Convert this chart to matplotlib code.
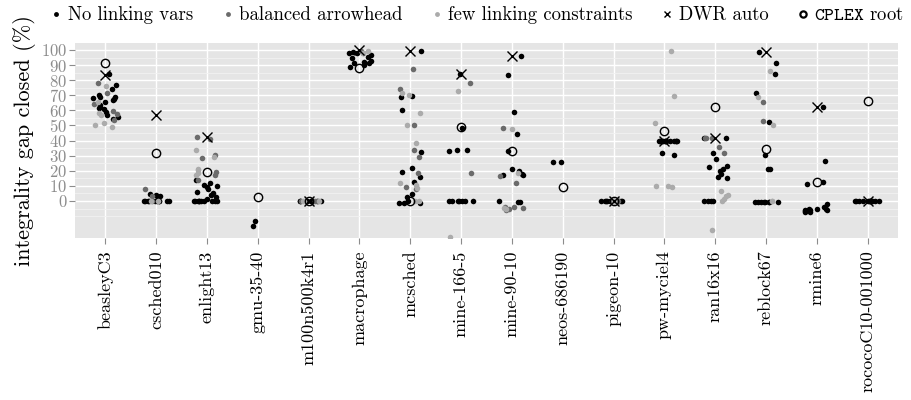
import numpy as np
import matplotlib
matplotlib.use('Agg')
from matplotlib import pyplot as plt
from matplotlib.lines import Line2D

plt.rcParams['font.family'] = ['cmr10', 'DejaVu Serif']
plt.rcParams['mathtext.fontset'] = 'cm'
plt.rcParams['axes.formatter.use_mathtext'] = True

# instancias del eje x
instances = ['beasleyC3', 'csched010', 'enlight13', 'gmu-35-40', 'm100n500k4r1',
             'macrophage', 'mcsched', 'mine-166-5', 'mine-90-10', 'neos-686190',
             'pigeon-10', 'pw-myciel4', 'ran16x16', 'reblock67', 'rmine6',
             'rococoC10-001000']

# gap cerrado (%) por instancia, una lista por serie
no_linking = [
    [83.9, 76.8, 74.2, 70.2, 69.1, 68.7, 68.0, 67.3, 66.9, 65.8, 63.6, 62.3, 61.4, 60.9, 59.2, 57.0, 55.8, 54.3],
    [0, 0, 0, 0, 0, 0, 0, 0, 0, 0, 3.0, 3.3, 4.0, 4.4],
    [0, 0, 0, 0, 0, 0, 0, 0, 0, 0, 1.1, 2.9, 4.0, 5.0, 6.2, 7.7, 9.5, 10.0, 10.6, 12.1, 13.9],
    [-13.2, -16.3],
    [0, 0, 0, 0, 0, 0, 0, 0, 0, 0],
    [98.9, 97.8, 97.8, 96.7, 94.5, 92.3, 91.6, 91.2, 90.1, 89.0, 95.5, 93.0],
    [99.0, 69.5, 69.1, 60.3, 32.5, 22.0, 19.0, 16.1, 12.8, 4.6, 2.9, 0, -1.0, -1.0, -1.5],
    [83.9, 48.6, 33.8, 33.8, 33.3, 0, 0, 0, 0, 0, 0, 0],
    [96.0, 83.4, 58.7, 44.2, 33.3, 21.0, 20.1, 17.7, 17.2, 17.2, -0.2, -0.7, -0.9],
    [25.6, 25.6],
    [0, 0, 0, 0, 0, 0, 0, 0, 0, 0],
    [40, 40, 40, 40, 40, 40, 40, 40, 40, 40, 40, 40, 40, 40, 30.5, 31.6],
    [41.5, 41.5, 31.6, 27.6, 23.2, 22.3, 21.0, 20.1, 17.9, 16.1, 15.2, 0, 0, 0, 0],
    [98.5, 91.6, 84.1, 71.3, 52.1, 30.7, 21.4, 21.4, -0.9, -0.9, -0.9, -0.9, -0.9, -0.9, -0.9, -0.9],
    [62.0, 26.7, 12.4, 11.0, -2.2, -3.8, -5.0, -5.5, -6.0, -6.0, -6.5, -7.0, -7.0, -6.0, -5.0],
    [0, 0, 0, 0, 0, 0, 0, 0, 0, 0, 0, 0],
]
balanced = [
    [77.9, 71.3, 64.2, 59.8, 57.6, 53.6],
    [8.0, 3.5, 0],
    [42.2, 40.8, 30.2, 28.7, 19.4, 17.2, 13.9],
    [],
    [0, 0, 0],
    [99.0, 98.0],
    [87.6, 74.4, 50.1, 33.8, 28.9, 18.8, 9.5, 7.7],
    [78.4, 18.3],
    [48.6, 16.6, 12.1, -3.8, -4.2, -4.4, -5.1, -6.0],
    [],
    [0, 0],
    [],
    [41.5, 41.5, 41.5, 36.0, 32.0],
    [65.6, 53.0],
    [],
    [],
]
few_linking = [
    [76.2, 65.8, 58.5, 57.0, 51.9, 50.3, 48.8],
    [0, 0],
    [33.8, 29.4, 21.0, 20.5, 18.3, 17.2],
    [],
    [0, 0, 0],
    [99.0, 98.0],
    [71.7, 70.0, 58.0, 50.1, 38.2, 12.1, 10.6, 8.4, 0, 0],
    [72.8, -23.6],
    [47.5, 18.8, -4.5, -5.5],
    [],
    [0],
    [99.6, 69.8, 51.9, 9.9, 9.5, 9.9],
    [6.8, 4.2, 3.3, 1.1, 0, -19.2],
    [85.9, 69.1, 50.3, 0, 0],
    [],
    [],
]
dwr_auto = [83.7, 57.0, 42.2, None, 0.0, 100.0, 99.0, 83.9, 96.2, None, 0.0, 40.0, 41.5, 98.9, 62.0, 0.0]
cplex_root = [91.2, 32.0, 19.4, 2.6, 0.0, 88.0, 0.2, 49.2, 33.3, 9.1, 0.0, 46.6, 62.0, 34.7, 12.4, 66.2]

series = [('No linking vars', no_linking, '#000000'),
          ('balanced arrowhead', balanced, '#6b6b6b'),
          ('few linking constraints', few_linking, '#ababab')]

fig = plt.figure(figsize=(9.11, 4.0), dpi=100)
ax = fig.add_axes([75 / 911, 1 - 238 / 400, 823 / 911, 195 / 400])
ax.set_facecolor('#e5e5e5')

# jitter horizontal como geom_jitter
rng = np.random.default_rng(7)
for nombre, datos, color in series:
    for i, vals in enumerate(datos):
        if len(vals) == 0:
            continue
        xs = i + 1 + rng.uniform(-0.25, 0.25, len(vals))
        ax.scatter(xs, vals, s=16, color=color, linewidths=0, zorder=3)

pos = np.arange(1, len(instances) + 1)
dx = [p for p, v in zip(pos, dwr_auto) if v is not None]
dy = [v for v in dwr_auto if v is not None]
ax.plot(dx, dy, 'x', color='black', markersize=7, markeredgewidth=1.0, zorder=4)
ax.plot(pos, cplex_root, 'o', markerfacecolor='none', markeredgecolor='black',
        markersize=6, markeredgewidth=1.0, zorder=4)

ax.set_xlim(0.4, len(instances) + 0.6)
ax.set_ylim(-24.5, 104.6)
ax.set_yticks(range(0, 101, 10))
ax.set_yticks([-10, -5] + list(range(5, 101, 10)), minor=True)
ax.set_xticks(pos)
ax.set_xticklabels(instances, rotation=90, fontsize=13, color='black')
ax.tick_params(axis='y', which='major', labelsize=12, labelcolor='#8c8c8c', color='#8c8c8c', length=4, pad=1.5)
ax.tick_params(axis='y', which='minor', length=0)
ax.tick_params(axis='x', color='#8c8c8c', length=4, pad=5)
ax.grid(True, which='major', color='white', linewidth=1.0, zorder=0)
ax.grid(True, which='minor', axis='y', color='#f2f2f2', linewidth=0.6, zorder=0)
ax.set_axisbelow(True)
for s in ax.spines.values():
    s.set_visible(False)
ax.set_ylabel('integrality gap closed (%)', fontsize=16, labelpad=4)

handles = [Line2D([], [], marker='o', linestyle='', color=c, markersize=3.5, markeredgewidth=0)
           for _, _, c in series]
handles.append(Line2D([], [], marker='x', linestyle='', color='black', markersize=5, markeredgewidth=1.0))
handles.append(Line2D([], [], marker='o', linestyle='', markerfacecolor='none', markeredgecolor='black',
                      markersize=4.5, markeredgewidth=1.6))
labels = [n for n, _, _ in series] + ['DWR auto', r'$\mathtt{CPLEX}$ root']
fig.legend(handles, labels, loc='center', bbox_to_anchor=(0.524, 0.962), ncol=5, frameon=False,
           fontsize=13.5, handletextpad=0.3, columnspacing=1.55, handlelength=0.6,
           borderaxespad=0, borderpad=0)

plt.savefig('out.png', dpi=100)
